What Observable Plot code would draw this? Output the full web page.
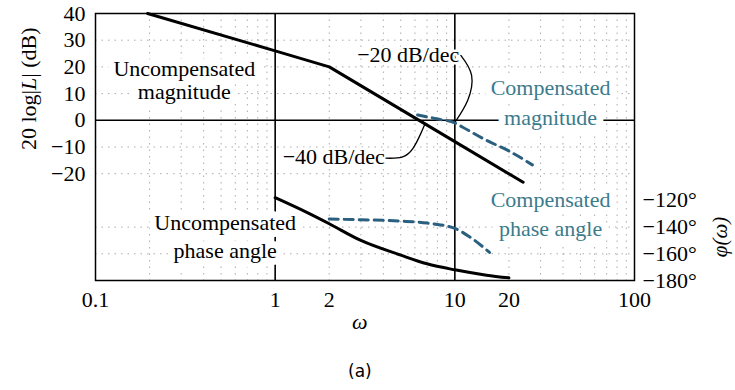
<!DOCTYPE html>
<html><head><meta charset="utf-8">
<script src="https://cdn.jsdelivr.net/npm/d3@7"></script>
<script src="https://cdn.jsdelivr.net/npm/@observablehq/plot@0.6"></script>
<style>body{margin:0;background:#fff;}</style>
</head><body><div id="chart"></div>
<script>
// ---- axes / ticks ----
const xTicks = [0.1, 0.5, 1, 2, 5, 10, 20, 50, 100];
const magTicks = [40, 30, 20, 10, 0, -10, -20];
const phaseTicks = [-120, -140, -160, -180];
const magGrid = [30, 20, 10, -10, -20];
const phaseGrid = [-140, -160];
const wGrid = [0.2, 0.3, 0.4, 0.5, 0.6, 0.7, 0.8, 0.9, 2, 3, 4, 5, 6, 7, 8, 9, 20, 30, 40, 50, 60, 70, 80, 90];
const wMajor = [1, 10];

// ---- series ----
const uncompMagW  = [0.195, 1, 2, 10, 24];
const uncompMagDb = [40, 26, 20, -8, -23.2];

const compMagW  = [6.2, 8, 10, 11, 15, 20, 27];
const compMagDb = [2, 0.5, -1, -2.5, -7.5, -11.5, -16.7];

const uncompPhW   = [1, 1.5, 2, 3, 5, 7, 10, 15, 20];
const uncompPhDeg = [-118, -129, -137.5, -150, -161, -167.5, -172, -176, -178];

const compPhW   = [2, 3, 5, 7, 10, 12, 15.6];
const compPhDeg = [-134, -134.5, -135.5, -137, -141, -147, -159];

// ---- labels / annotations ----
const blackLabels = [
  {t: "Uncompensated", w: 0.312, db: 19.4},
  {t: "magnitude", w: 0.312, db: 10.5},
  {t: "Uncompensated", w: 0.527, db: -38.5},
  {t: "phase angle", w: 0.527, db: -49.0}
];
const tealLabels = [
  {t: "Compensated", w: 34.1, db: 12.0},
  {t: "magnitude", w: 34.1, db: 0.75},
  {t: "Compensated", w: 34.1, db: -29.9},
  {t: "phase angle", w: 34.1, db: -40.7}
];
const slopeLabels = [
  {t: "−20 dB/dec", w: 10.6, db: 24.3},
  {t: "−40 dB/dec", w: 4.08, db: -13.8}
];
const arrow20W = [10.8, 12.4, 11.8, 10.1];
const arrow20Db = [24.3, 16.8, 7.5, -0.4];
const arrow40W = [4.14, 5.08, 5.85, 6.47, 6.81];
const arrow40Db = [-14.2, -13.8, -10.5, -4.9, -1.5];

// phase (deg) shares the frame with magnitude (dB): -120° ↔ -30 dB, -180° ↔ -60 dB
const phaseToY = p => p / 2 + 30;
const minus = v => v < 0 ? "−" + (-v) : String(v);

const zip = (a, b, ka, kb) => a.map((v, i) => ({[ka]: v, [kb]: b[i]}));
const uncompMag = zip(uncompMagW, uncompMagDb, "w", "db");
const compMag = zip(compMagW, compMagDb, "w", "db");
const uncompPh = zip(uncompPhW, uncompPhDeg, "w", "ph");
const compPh = zip(compPhW, compPhDeg, "w", "ph");
const arrow20 = zip(arrow20W, arrow20Db, "w", "db");
const arrow40 = zip(arrow40W, arrow40Db, "w", "db");

const teal = "#3b7b8c";
const dashBlue = "#2a5f80";
const gridStyle = {stroke: "#888", strokeWidth: 1, strokeDasharray: "1.5,5", strokeOpacity: 0.7};
const FS = 22;

const plot = Plot.plot({
  width: 735, height: 390,
  marginTop: 13, marginLeft: 95, marginRight: 101, marginBottom: 110,
  style: {fontFamily: "'Liberation Serif', serif", fontSize: FS + "px", background: "white", color: "black"},
  x: {type: "log", domain: [0.1, 100]},
  y: {domain: [-60, 40]},
  marks: [
    Plot.ruleX(wGrid, gridStyle),
    Plot.ruleY(magGrid, gridStyle),
    Plot.ruleY(phaseGrid, {...gridStyle, y: d => phaseToY(d)}),
    Plot.ruleY([0], {stroke: "black", strokeWidth: 1.4}),
    Plot.ruleX(wMajor, {stroke: "black", strokeWidth: 1.6}),
    Plot.frame({stroke: "black", strokeWidth: 1.5}),
    Plot.axisX({ticks: xTicks, tickFormat: d => String(d), tickSize: 0, tickPadding: 11, label: null}),
    Plot.axisY({anchor: "left", ticks: magTicks, tickFormat: minus, tickSize: 0, tickPadding: 10, label: null}),
    Plot.axisY({anchor: "right", ticks: phaseTicks.map(phaseToY), tickFormat: v => "−" + Math.abs((v - 30) * 2) + "°", tickSize: 0, tickPadding: 8, label: null}),
    // labels with white boxes
    Plot.text(blackLabels, {x: "w", y: "db", text: "t", fill: "black", stroke: "white", strokeWidth: 14, fontSize: FS}),
    Plot.text(tealLabels, {x: "w", y: "db", text: "t", fill: teal, stroke: "white", strokeWidth: 14, fontSize: FS}),
    // data lines
    Plot.line(uncompMag, {x: "w", y: "db", stroke: "black", strokeWidth: 3}),
    Plot.line(compMag, {x: "w", y: "db", stroke: dashBlue, strokeWidth: 3, strokeDasharray: "9,6", curve: "monotone-x"}),
    Plot.line(uncompPh, {x: "w", y: d => phaseToY(d.ph), stroke: "black", strokeWidth: 3, curve: "monotone-x"}),
    Plot.line(compPh, {x: "w", y: d => phaseToY(d.ph), stroke: dashBlue, strokeWidth: 3, strokeDasharray: "9,6", curve: "monotone-x"}),
    // slope annotations
    Plot.text(slopeLabels, {x: "w", y: "db", text: "t", textAnchor: "end", fill: "black", stroke: "white", strokeWidth: 5, fontSize: FS}),
    Plot.line(arrow20, {x: "w", y: "db", stroke: "black", strokeWidth: 1.3, curve: "natural"}),
    Plot.line(arrow40, {x: "w", y: "db", stroke: "black", strokeWidth: 1.3, curve: "natural"}),
    // axis titles
    Plot.text(["20 log|L| (dB)"], {frameAnchor: "left", y: 11.8, dx: -67, rotate: -90, textAnchor: "middle", text: d => d, fontSize: FS}),
    Plot.text(["φ(ω)"], {frameAnchor: "right", y: -43.7, dx: 86, rotate: -90, textAnchor: "middle", text: d => d, fontSize: 21, fontStyle: "italic"}),
    Plot.text(["ω"], {frameAnchor: "bottom", x: 2.96, dy: 48, textAnchor: "middle", text: d => d, fontSize: FS, fontStyle: "italic"}),
    Plot.text(["(a)"], {frameAnchor: "bottom", x: 2.96, dy: 96, textAnchor: "middle", text: d => d, fontSize: 17, fontFamily: "'DejaVu Sans', sans-serif"})
  ]
});

// italic L in the left axis title
d3.select(plot).selectAll("text").filter(function() { return this.textContent === "20 log|L| (dB)"; })
  .each(function() {
    const t = d3.select(this);
    t.text("");
    t.append("tspan").text("20 log|");
    t.append("tspan").attr("font-style", "italic").text("L");
    t.append("tspan").text("| (dB)");
  });

document.getElementById("chart").appendChild(plot);
</script>
</body></html>
